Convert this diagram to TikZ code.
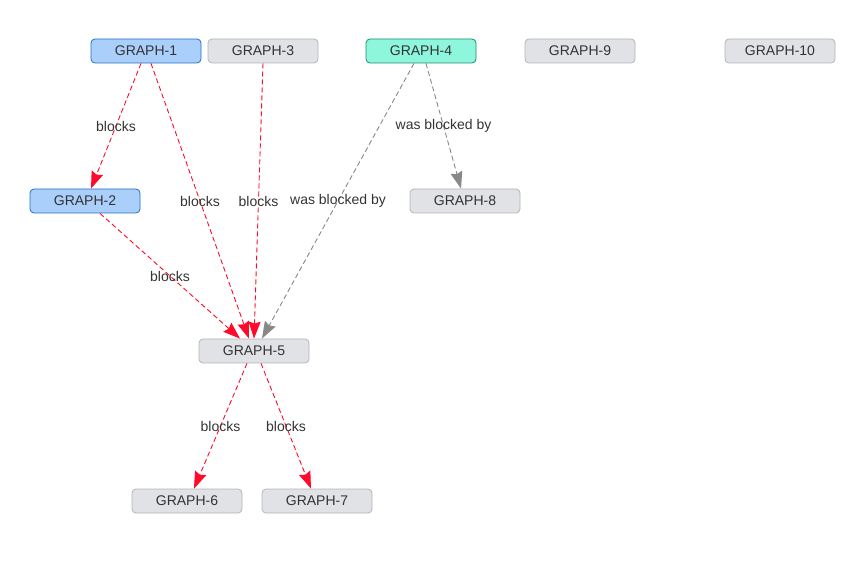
\documentclass[tikz,border=0pt]{standalone}
\usepackage{fontspec}
\setmainfont{Liberation Sans}
\usetikzlibrary{arrows.meta}
\definecolor{grayfill}{HTML}{E1E2E6}
\definecolor{graydraw}{HTML}{B3B4BB}
\definecolor{bluefill}{HTML}{AACFFA}
\definecolor{bluedraw}{HTML}{1F6FC9}
\definecolor{greenfill}{HTML}{8DF6DC}
\definecolor{greendraw}{HTML}{1A8C6C}
\definecolor{blockred}{HTML}{FF0A2A}
\definecolor{wasgray}{HTML}{888888}
\definecolor{txt}{HTML}{333333}
\tikzset{
  issue/.style={rounded corners=4pt, draw=graydraw, fill=grayfill, line width=0.8pt,
    minimum width=110pt, minimum height=24pt, inner sep=0pt, text=txt,
    font=\fontsize{14}{16}\selectfont},
  selected/.style={issue, draw=bluedraw, fill=bluefill},
  current/.style={issue, draw=greendraw, fill=greenfill},
  blocks/.style={draw=blockred, dash pattern=on 5pt off 3pt, line width=0.9pt,
    -{Stealth[length=17pt,width=12pt,inset=2pt,fill=blockred]}},
  wasblocked/.style={blocks, draw=wasgray, -{Stealth[length=17pt,width=12pt,inset=2pt,fill=wasgray]}},
  lbl/.style={text=txt, inner sep=1pt, font=\fontsize{14}{16}\selectfont}
}
\begin{document}
\begin{tikzpicture}[x=1pt, y=-1pt]
    \useasboundingbox (0,0) rectangle (860,561);
    \node[selected] (g1) at (146,51) {GRAPH-1};
    \node[issue] (g3) at (263,51) {GRAPH-3};
    \node[current] (g4) at (421,51) {GRAPH-4};
    \node[issue] (g9) at (580,51) {GRAPH-9};
    \node[issue] (g10) at (780,51) {GRAPH-10};
    \node[selected] (g2) at (85,201) {GRAPH-2};
    \node[issue] (g8) at (465,201) {GRAPH-8};
    \node[issue] (g5) at (254,351) {GRAPH-5};
    \node[issue] (g6) at (187,501) {GRAPH-6};
    \node[issue] (g7) at (317,501) {GRAPH-7};
    \draw[blocks] ([xshift=-5pt]g1.south) -- node[lbl] {blocks} ([xshift=6pt]g2.north);
    \draw[blocks] ([xshift=5pt]g1.south) -- node[lbl] {blocks} ([xshift=-5pt]g5.north);
    \draw[blocks] (g3.south) -- node[lbl] {blocks} (g5.north);
    \draw[wasblocked] ([xshift=-7pt]g4.south) -- node[lbl] {was blocked by} ([xshift=8pt]g5.north);
    \draw[wasblocked] ([xshift=5pt]g4.south) -- node[lbl] {was blocked by} ([xshift=-4pt]g8.north);
    \draw[blocks] ([xshift=15pt]g2.south) -- node[lbl] {blocks} ([xshift=-14pt]g5.north);
    \draw[blocks] ([xshift=-7pt]g5.south) -- node[lbl] {blocks} ([xshift=7pt]g6.north);
    \draw[blocks] ([xshift=7pt]g5.south) -- node[lbl] {blocks} ([xshift=-6pt]g7.north);
\end{tikzpicture}
\end{document}
